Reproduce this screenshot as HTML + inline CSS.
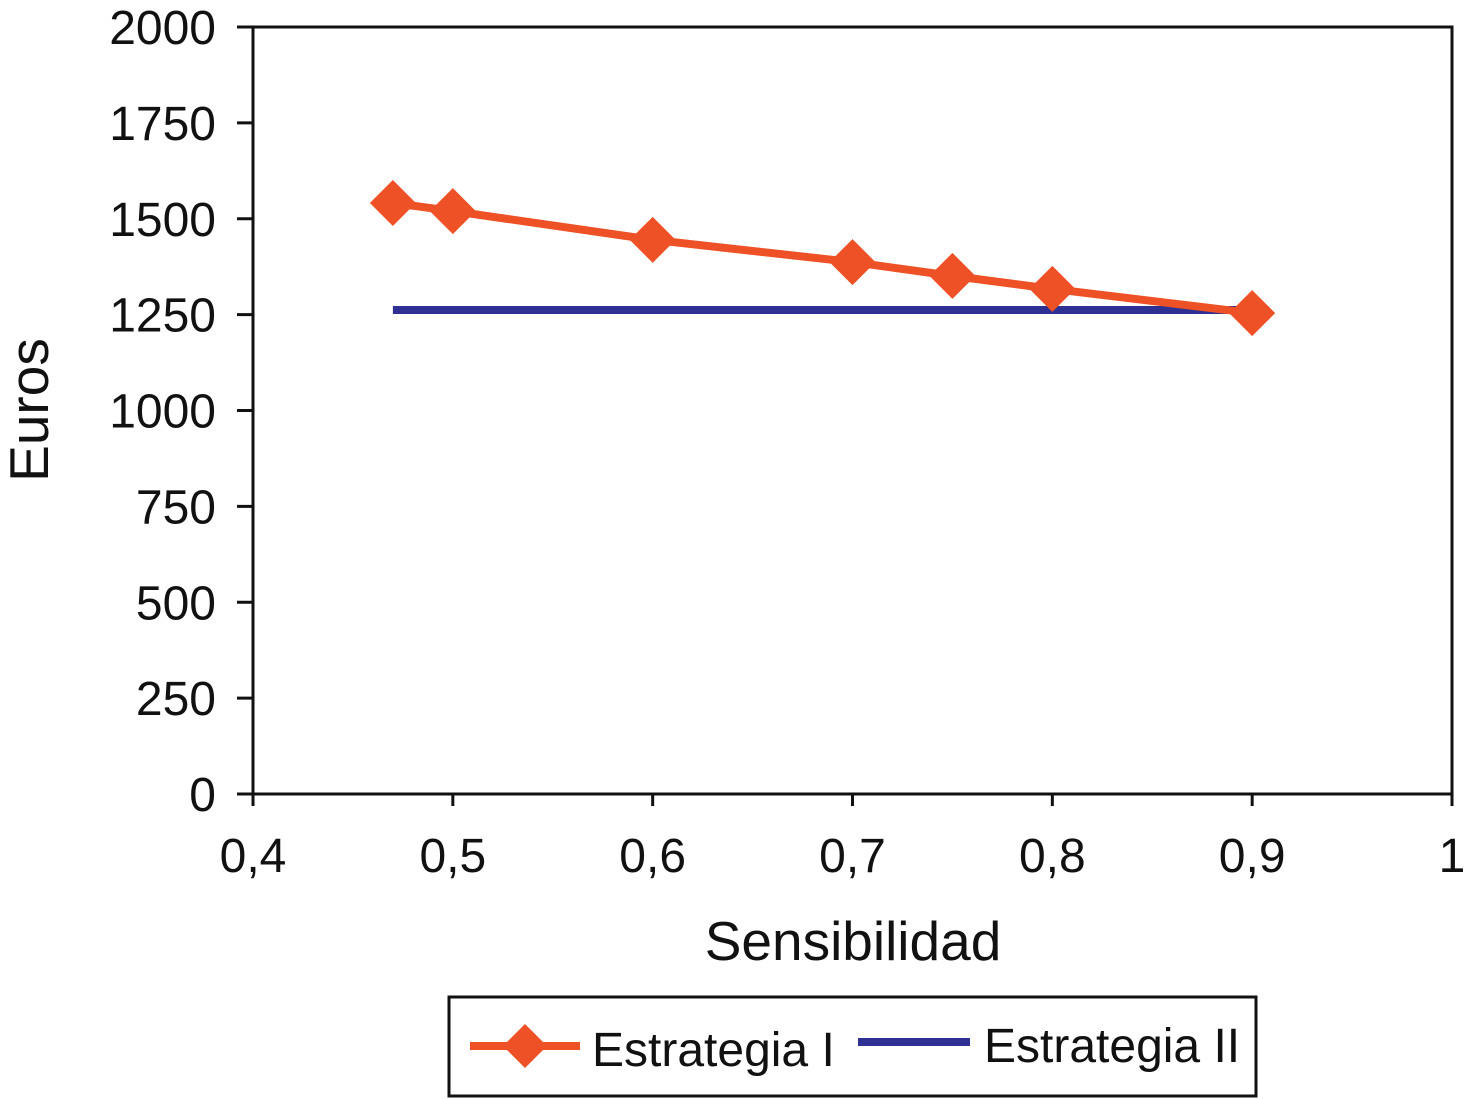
<!DOCTYPE html>
<html><head><meta charset="utf-8"><style>
body{margin:0;background:#fff;}
svg{display:block;font-family:"Liberation Sans",Arial,sans-serif;}
</style></head><body>
<svg id="chart" width="1467" height="1099">
<g id="axes"></g><g id="series"></g>
<text x="853" y="960" font-size="55" text-anchor="middle" fill="#111">Sensibilidad</text>
<text transform="translate(48,410) rotate(-90)" font-size="55" text-anchor="middle" fill="#111">Euros</text>
<g>
<rect x="449" y="997" width="807" height="99" fill="#fff" stroke="#111" stroke-width="3"/>
<g>
<line x1="470" y1="1046" x2="580" y2="1046" stroke="#EE5125" stroke-width="8"/>
<polygon points="525,1024 547,1046 525,1068 503,1046" fill="#EE5125"/>
<text x="592" y="1066" font-size="48" fill="#111">Estrategia I</text></g>
<g>
<line x1="858" y1="1042" x2="970" y2="1042" stroke="#2E3192" stroke-width="8"/>
<text x="984" y="1062" font-size="48" fill="#111">Estrategia II</text></g>
</g>
</svg>
<script>
const xTicks=[0.4,0.5,0.6,0.7,0.8,0.9,1];
const xTickLabels=["0,4","0,5","0,6","0,7","0,8","0,9","1"];
const yTicks=[0,250,500,750,1000,1250,1500,1750,2000];
const s1x=[0.47,0.5,0.6,0.7,0.75,0.8,0.9];
const s1y=[1541,1520,1445,1387,1351,1317,1254];
const s2x=[0.47,0.903];
const s2y=[1262,1262];
const L=253,R=1452,T=27,B=794;
const X=v=>L+(v-0.4)/0.6*(R-L);
const Y=v=>B-v/2000*(B-T);
const NS="http://www.w3.org/2000/svg";
function mk(tag,attrs,parent){const e=document.createElementNS(NS,tag);for(const k in attrs)e.setAttribute(k,attrs[k]);parent.appendChild(e);return e;}
const ax=document.getElementById('axes'),se=document.getElementById('series');
const box=mk('rect',{x:L,y:T,width:R-L,height:B-T,fill:'none',stroke:'#111','stroke-width':3},ax);


yTicks.forEach(v=>{mk('line',{x1:L-16,x2:L,y1:Y(v),y2:Y(v),stroke:'#111','stroke-width':3},ax);
const t=mk('text',{x:L-37,y:Y(v)+17,'font-size':48,'text-anchor':'end',fill:'#111'},ax);t.textContent=v;

});
xTicks.forEach((v,i)=>{mk('line',{x1:X(v),x2:X(v),y1:B,y2:B+12,stroke:'#111','stroke-width':3},ax);
const t=mk('text',{x:X(v),y:B+78,'font-size':48,'text-anchor':'middle',fill:'#111'},ax);t.textContent=xTickLabels[i];

});
const l2=mk('polyline',{points:s2x.map((v,i)=>X(v)+','+Y(s2y[i])).join(' '),fill:'none',stroke:'#2E3192','stroke-width':8},se);


const l1=mk('polyline',{points:s1x.map((v,i)=>X(v)+','+Y(s1y[i])).join(' '),fill:'none',stroke:'#EE5125','stroke-width':8},se);


s1x.forEach((v,i)=>{const cx=X(v),cy=Y(s1y[i]),r=23;
const p=mk('polygon',{points:`${cx},${cy-r} ${cx+r},${cy} ${cx},${cy+r} ${cx-r},${cy}`,fill:'#EE5125'},se);

});
</script>
</body></html>
